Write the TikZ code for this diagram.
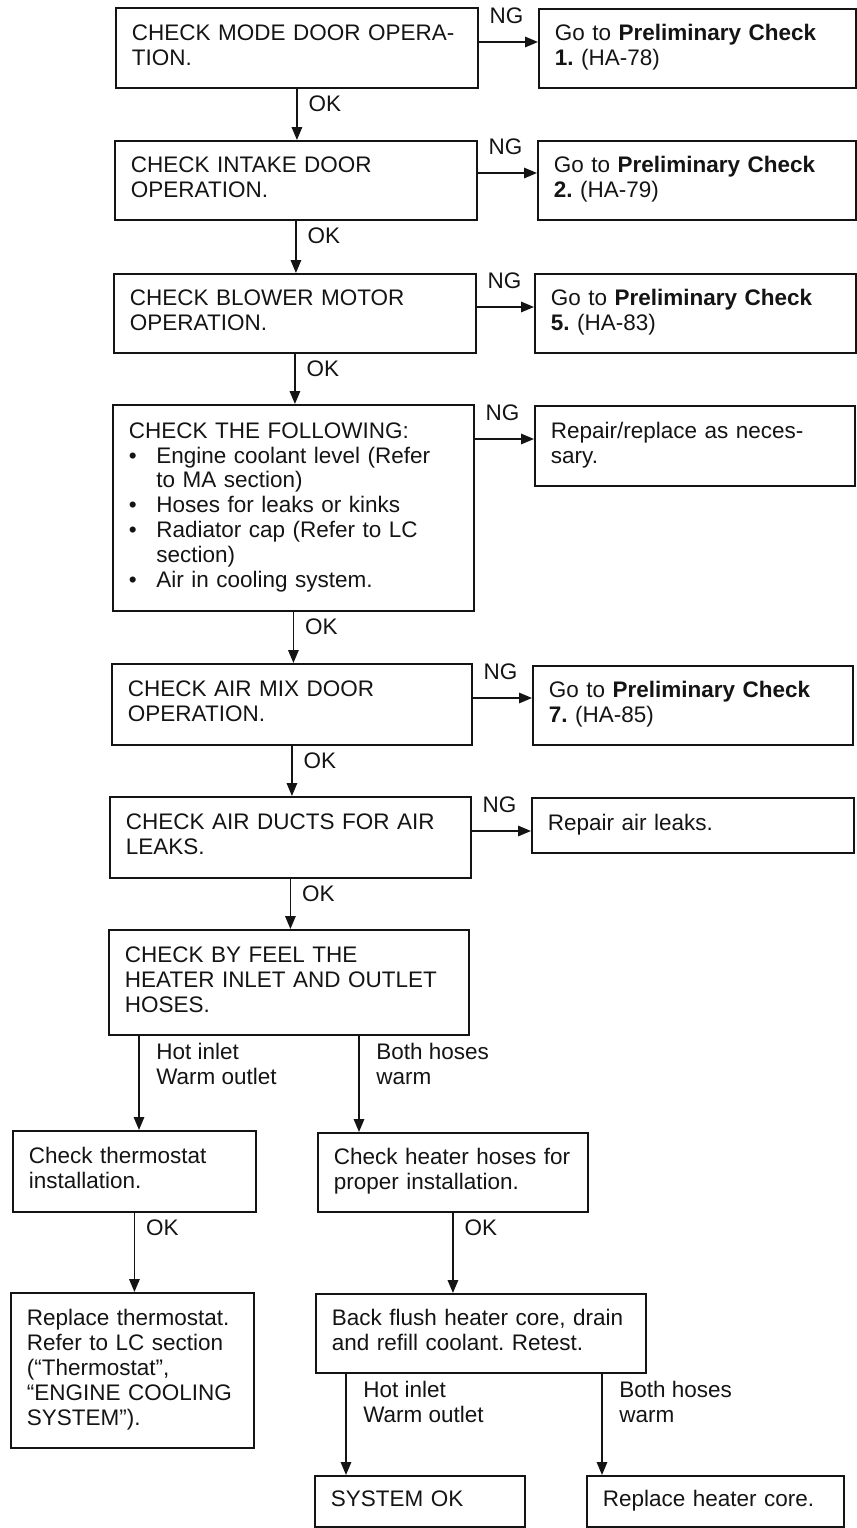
\documentclass[tikz,border=0pt]{standalone}
\usepackage{fontspec}
\setmainfont{Liberation Sans}
\usepackage{tikz}
\usetikzlibrary{arrows.meta}
\definecolor{ink}{HTML}{141414}
\newcommand\bul{\makebox[0.55cm][l]{\textbullet}}
\newcommand\ind{\hspace*{0.55cm}}
\frenchspacing

\begin{document}
\begin{tikzpicture}[x=0.02cm,y=-0.02cm,
    box/.style={draw=ink,line width=1.1pt,anchor=north west,inner xsep=0.32cm,inner ysep=0pt,
      align=left,text=ink,font=\fontsize{12.8}{14.2}\selectfont,
      execute at begin node=\strut,execute at end node=\strut},
    arr/.style={draw=ink,line width=0.9pt,-{Triangle[length=0.26cm,width=0.21cm]}},
    lbl/.style={anchor=north west,inner sep=0pt,align=left,text=ink,font=\fontsize{12.8}{14.2}\selectfont},
    ok/.style={lbl,xshift=0.22cm,yshift=-0.13cm},
    br/.style={lbl,xshift=0.33cm,yshift=-0.13cm},
    ng/.style={lbl,xshift=0.2cm,yshift=0.71cm}]
  \useasboundingbox (0,0) rectangle (857,1528);

  \node[box,text width=6.60cm,minimum height=1.60cm] (mode) at (115,7) {CHECK MODE DOOR OPERA-\\TION.};
  \node[box,text width=5.70cm,minimum height=1.58cm] (pc1) at (538,8) {Go to \textbf{Preliminary Check}\\\textbf{1.} (HA-78)};
  \node[box,text width=6.60cm,minimum height=1.58cm] (intake) at (114,140) {CHECK INTAKE DOOR\\OPERATION.};
  \node[box,text width=5.72cm,minimum height=1.58cm] (pc2) at (537,140) {Go to \textbf{Preliminary Check}\\\textbf{2.} (HA-79)};
  \node[box,text width=6.60cm,minimum height=1.58cm] (blower) at (113,273) {CHECK BLOWER MOTOR\\OPERATION.};
  \node[box,text width=5.78cm,minimum height=1.58cm] (pc5) at (534,273) {Go to \textbf{Preliminary Check}\\\textbf{5.} (HA-83)};
  \node[box,text width=6.58cm,minimum height=4.12cm] (follow) at (112,404) {CHECK THE FOLLOWING:\\
    \bul Engine coolant level (Refer\\\ind to MA section)\\
    \bul Hoses for leaks or kinks\\
    \bul Radiator cap (Refer to LC\\\ind section)\\
    \bul Air in cooling system.};
  \node[box,text width=5.76cm,minimum height=1.60cm] (repair) at (534,405) {Repair/replace as neces-\\sary.};
  \node[box,text width=6.56cm,minimum height=1.62cm] (airmix) at (111,663) {CHECK AIR MIX DOOR\\OPERATION.};
  \node[box,text width=5.76cm,minimum height=1.58cm] (pc7) at (532,665) {Go to \textbf{Preliminary Check}\\\textbf{7.} (HA-85)};
  \node[box,text width=6.58cm,minimum height=1.62cm] (ducts) at (109,796) {CHECK AIR DUCTS FOR AIR\\LEAKS.};
  \node[box,text width=5.80cm,minimum height=1.10cm] (leaks) at (531,797) {Repair air leaks.};
  \node[box,text width=6.56cm,minimum height=2.10cm] (feel) at (108,929) {CHECK BY FEEL THE\\HEATER INLET AND OUTLET\\HOSES.};
  \node[box,text width=4.22cm,minimum height=1.62cm] (thermo) at (12,1130) {Check thermostat\\installation.};
  \node[box,text width=4.76cm,minimum height=1.58cm] (hoses) at (317,1132) {Check heater hoses for\\proper installation.};
  \node[box,text width=4.22cm,minimum height=3.10cm] (newthermo) at (10,1292) {Replace thermostat.\\Refer to LC section\\(“Thermostat”,\\“ENGINE COOLING\\SYSTEM”).};
  \node[box,text width=5.96cm,minimum height=1.58cm] (flush) at (315,1293) {Back flush heater core, drain\\and refill coolant. Retest.};
  \node[box,text width=3.56cm,minimum height=1.02cm] (sysok) at (314,1475) {SYSTEM OK};
  \node[box,text width=4.50cm,minimum height=1.02cm] (core) at (586,1475) {Replace heater core.};

  \draw[arr] (mode.east |- 0,42) node[ng] {NG} -- (pc1.west |- 0,42);
  \draw[arr] (intake.east |- 0,173) node[ng] {NG} -- (pc2.west |- 0,173);
  \draw[arr] (blower.east |- 0,307) node[ng] {NG} -- (pc5.west |- 0,307);
  \draw[arr] (follow.east |- 0,439) node[ng] {NG} -- (repair.west |- 0,439);
  \draw[arr] (airmix.east |- 0,698) node[ng] {NG} -- (pc7.west |- 0,698);
  \draw[arr] (ducts.east |- 0,831) node[ng] {NG} -- (leaks.west |- 0,831);

  \draw[arr] (mode.south) node[ok] {OK} -- (mode.south |- intake.north);
  \draw[arr] (intake.south) node[ok] {OK} -- (intake.south |- blower.north);
  \draw[arr] (blower.south) node[ok] {OK} -- (blower.south |- follow.north);
  \draw[arr] (follow.south) node[ok] {OK} -- (follow.south |- airmix.north);
  \draw[arr] (airmix.south) node[ok] {OK} -- (airmix.south |- ducts.north);
  \draw[arr] (ducts.south) node[ok] {OK} -- (ducts.south |- feel.north);

  \draw[arr] (feel.south -| 139,0) node[br] {Hot inlet\\Warm outlet} -- (thermo.north -| 139,0);
  \draw[arr] (feel.south -| 359,0) node[br] {Both hoses\\warm} -- (hoses.north -| 359,0);
  \draw[arr] (thermo.south) node[ok] {OK} -- (thermo.south |- newthermo.north);
  \draw[arr] (hoses.south) node[ok] {OK} -- (hoses.south |- flush.north);
  \draw[arr] (flush.south -| 346,0) node[br] {Hot inlet\\Warm outlet} -- (sysok.north -| 346,0);
  \draw[arr] (flush.south -| 602,0) node[br] {Both hoses\\warm} -- (core.north -| 602,0);
\end{tikzpicture}
\end{document}
